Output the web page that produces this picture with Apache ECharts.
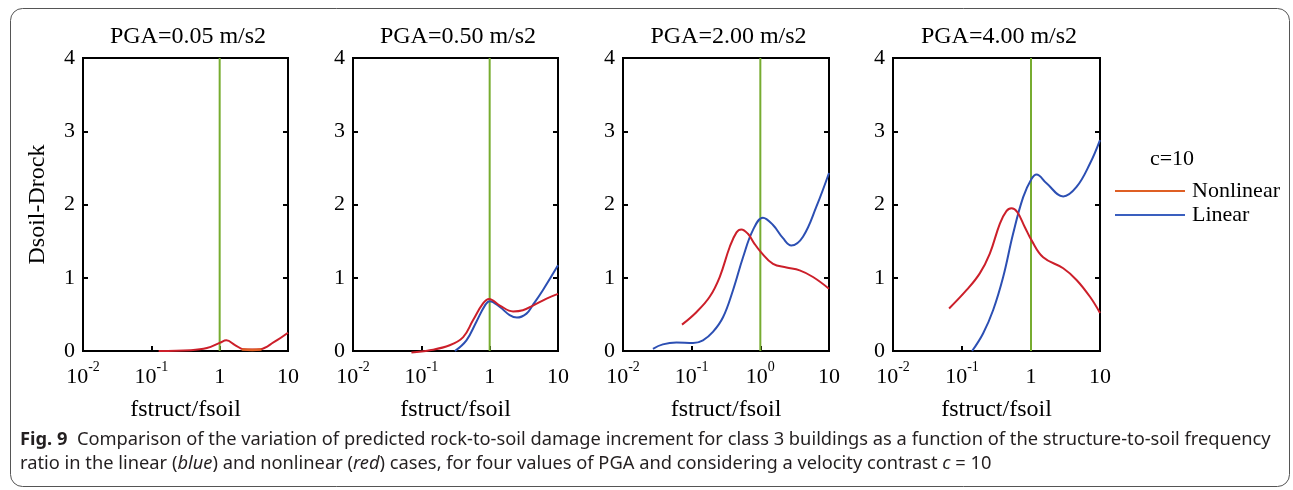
<!DOCTYPE html>
<html>
<head>
<meta charset="utf-8">
<script src="https://cdn.jsdelivr.net/npm/echarts@6/dist/echarts.min.js"></script>
<style>html,body{margin:0;padding:0;background:#fff;}#c{width:1293px;height:490px;}</style>
</head>
<body>
<div id="c"></div>
<script>
// ---------- data ----------
const panelTitles = ['PGA=0.05 m/s2', 'PGA=0.50 m/s2', 'PGA=2.00 m/s2', 'PGA=4.00 m/s2'];
const xTickLabels = [
  ['10^-2', '10^-1', '1', '10'],
  ['10^-2', '10^-1', '1', '10'],
  ['10^-2', '10^-1', '10^0', '10'],
  ['10^-2', '10^-1', '1', '10']
];
const xRange = [0.01, 10];
const yRange = [0, 4];
const yStep = 1;
const vertLineX = 1;
const xName = 'fstruct/fsoil';
const yName = 'Dsoil-Drock';
const legendTitle = 'c=10';
const seriesNames = ['Nonlinear', 'Linear'];

const nonlinear1 = [[0.128,0],[0.373,0.01],[0.65,0.04],[1.02,0.115],[1.25,0.146],[1.70,0.078],[2.24,0.023],[2.96,0.02],[3.97,0.025],[6.2,0.12],[10,0.25]];
const extra1 = [[2.1,0.02],[3.0,0.015],[4.1,0.02]];
const nonlinear2 = [[0.0716,-0.02],[0.133,0.01],[0.26,0.078],[0.41,0.19],[0.57,0.42],[0.80,0.65],[0.98,0.71],[1.41,0.62],[2.2,0.54],[3.06,0.556],[4.3,0.62],[6.8,0.716],[10,0.78]];
const linear2 = [[0.31,0],[0.457,0.146],[0.64,0.40],[0.85,0.62],[1.0,0.68],[1.41,0.60],[1.96,0.49],[2.5,0.456],[3.46,0.51],[4.3,0.63],[6.0,0.83],[10,1.17]];
const nonlinear3 = [[0.0723,0.36],[0.117,0.53],[0.183,0.74],[0.256,1.01],[0.358,1.42],[0.45,1.62],[0.53,1.66],[0.66,1.60],[0.80,1.48],[1.02,1.35],[1.53,1.19],[2.4,1.14],[3.74,1.10],[5.85,1.01],[10,0.85]];
const linear3 = [[0.0273,0.03],[0.038,0.09],[0.06,0.115],[0.105,0.11],[0.146,0.146],[0.204,0.26],[0.286,0.46],[0.40,0.83],[0.56,1.28],[0.78,1.65],[1.09,1.82],[1.53,1.72],[2.14,1.54],[2.83,1.44],[4.18,1.56],[6.55,1.97],[10,2.43]];
const nonlinear4 = [[0.065,0.58],[0.116,0.83],[0.181,1.06],[0.253,1.33],[0.354,1.74],[0.44,1.91],[0.52,1.95],[0.63,1.90],[0.815,1.69],[1.02,1.51],[1.50,1.28],[2.93,1.13],[4.57,0.97],[7.16,0.74],[10,0.52]];
const linear4 = [[0.14,0.0],[0.202,0.24],[0.283,0.56],[0.395,1.01],[0.55,1.60],[0.77,2.10],[1.02,2.35],[1.2,2.41],[1.68,2.29],[2.93,2.11],[4.57,2.24],[7.16,2.56],[10,2.88]];

const nonlinearData = [nonlinear1, nonlinear2, nonlinear3, nonlinear4];
const linearData = [null, linear2, linear3, linear4];

const captionLine1 = '{fb|Fig. 9}  Comparison of the variation of predicted rock-to-soil damage increment for class 3 buildings as a function of the structure-to-soil frequency';
const captionLine2 = 'ratio in the linear ({i|blue}) and nonlinear ({i|red}) cases, for four values of PGA and considering a velocity contrast {i|c} = 10';

// ---------- style ----------
const SERIF = '"Liberation Serif", "DejaVu Serif", serif';
const CAP = '"Noto Sans", sans-serif';
const CAPSIZE = 18.3;
const RED = '#cc1f2a';
const BLUE = '#2c4fb3';
const GREEN = '#77ac30';
const ORANGE = '#df5f24';
const LEG_BLUE = '#3a5fbf';

const gridLefts = [83, 353, 623, 893];
const gridWidths = [205, 205, 206, 207];
const gridTop = 58, gridHeight = 293;

function fmtTick(p) {
  return function (v) {
    const k = Math.round(Math.log10(v)) + 2;
    const lab = xTickLabels[p][k];
    if (lab === undefined) return '';
    const parts = lab.split('^');
    if (parts.length === 2) return '{b|' + parts[0] + '}{s|' + parts[1] + '}';
    return '{b|' + lab + '}';
  };
}

const grids = [], xAxes = [], yAxes = [], series = [], titles = [];
for (let p = 0; p < 4; p++) {
  grids.push({left: gridLefts[p], top: gridTop, width: gridWidths[p], height: gridHeight,
    show: true, borderColor: '#000', borderWidth: 2, backgroundColor: 'transparent'});
  xAxes.push({
    type: 'log', logBase: 10, gridIndex: p, min: xRange[0], max: xRange[1],
    name: xName, nameLocation: 'middle', nameGap: 47,
    nameTextStyle: {fontFamily: SERIF, fontSize: 24, color: '#000'},
    axisLine: {show: true, lineStyle: {color: '#000', width: 2}},
    axisTick: {show: true, inside: true, length: 5, lineStyle: {color: '#000', width: 2}},
    minorTick: {show: false},
    splitLine: {show: false},
    axisLabel: {margin: 9, formatter: fmtTick(p), color: '#000',
      rich: {
        b: {fontFamily: SERIF, fontSize: 22, color: '#000', lineHeight: 28, verticalAlign: 'bottom'},
        s: {fontFamily: SERIF, fontSize: 14, color: '#000', lineHeight: 14, verticalAlign: 'top'}
      }}
  });
  yAxes.push({
    type: 'value', gridIndex: p, min: yRange[0], max: yRange[1], interval: yStep,
    name: p === 0 ? yName : '', nameLocation: 'middle', nameGap: 33, nameRotate: 90,
    nameTextStyle: {fontFamily: SERIF, fontSize: 24, color: '#000'},
    axisLine: {show: true, lineStyle: {color: '#000', width: 2}},
    axisTick: {show: true, inside: true, length: 5, lineStyle: {color: '#000', width: 2}},
    splitLine: {show: false},
    axisLabel: {margin: 8, fontFamily: SERIF, fontSize: 22, color: '#000'}
  });
  yAxes.push({
    type: 'value', gridIndex: p, min: yRange[0], max: yRange[1], interval: yStep, position: 'right',
    axisLine: {show: true, lineStyle: {color: '#000', width: 2}},
    axisTick: {show: true, inside: true, length: 5, lineStyle: {color: '#000', width: 2}},
    splitLine: {show: false}, axisLabel: {show: false}
  });
  titles.push({
    text: panelTitles[p], left: gridLefts[p] + gridWidths[p] / 2 + 2.5, top: 25, textAlign: 'center', padding: 0,
    textStyle: {fontFamily: SERIF, fontSize: 24, fontWeight: 'normal', color: '#000'}
  });
  // green vertical reference line
  series.push({
    type: 'line', xAxisIndex: p, yAxisIndex: 2 * p, data: [[vertLineX, yRange[0]], [vertLineX, yRange[1]]],
    symbol: 'none', lineStyle: {color: GREEN, width: 2}, z: 3, silent: true
  });
  if (linearData[p]) {
    series.push({
      name: seriesNames[1], type: 'line', xAxisIndex: p, yAxisIndex: 2 * p, data: linearData[p],
      symbol: 'none', smooth: 0.4, clip: false, lineStyle: {color: BLUE, width: 2}, itemStyle: {color: LEG_BLUE}, z: 4
    });
  }
  series.push({
    name: seriesNames[0], type: 'line', xAxisIndex: p, yAxisIndex: 2 * p, data: nonlinearData[p],
    symbol: 'none', smooth: 0.4, clip: false, lineStyle: {color: RED, width: 2}, itemStyle: {color: ORANGE}, z: 5
  });
}
series.push({
  type: 'line', xAxisIndex: 0, yAxisIndex: 0, data: extra1,
  symbol: 'none', smooth: 0.4, lineStyle: {color: ORANGE, width: 2.5}, z: 6
});

titles.push({
  text: legendTitle, left: 1172, top: 148, textAlign: 'center', padding: 0,
  textStyle: {fontFamily: SERIF, fontSize: 22, fontWeight: 'normal', color: '#000'}
});
titles.push({
  text: captionLine1, left: 20, top: 431, padding: 0,
  textStyle: {fontFamily: CAP, fontSize: CAPSIZE, fontWeight: 'normal', color: '#231f20',
    rich: {fb: {fontFamily: CAP, fontSize: CAPSIZE, fontWeight: 'bold', color: '#231f20'}}}
});
titles.push({
  text: captionLine2, left: 20, top: 455, padding: 0,
  textStyle: {fontFamily: CAP, fontSize: CAPSIZE, fontWeight: 'normal', color: '#231f20',
    rich: {i: {fontFamily: CAP, fontSize: CAPSIZE, fontStyle: 'italic', color: '#231f20'}}}
});

const chart = echarts.init(document.getElementById('c'), null, {renderer: 'canvas'});
chart.setOption({
  animation: false,
  backgroundColor: '#fff',
  title: titles,
  grid: grids,
  xAxis: xAxes,
  yAxis: yAxes,
  legend: {
    orient: 'vertical', left: 1115, top: 180, padding: 0, itemGap: 2,
    icon: 'rect', itemWidth: 70, itemHeight: 2,
    data: [
      {name: seriesNames[0], itemStyle: {color: ORANGE}},
      {name: seriesNames[1], itemStyle: {color: LEG_BLUE}}
    ],
    textStyle: {fontFamily: SERIF, fontSize: 22, color: '#000', padding: [0, 0, 0, 2]},
    selectedMode: false
  },
  graphic: [{
    type: 'rect', silent: true, z: -1,
    shape: {x: 10.5, y: 8.5, width: 1279, height: 478, r: 12},
    style: {fill: 'none', stroke: '#555', lineWidth: 1}
  }],
  series: series
});
</script>
</body>
</html>
